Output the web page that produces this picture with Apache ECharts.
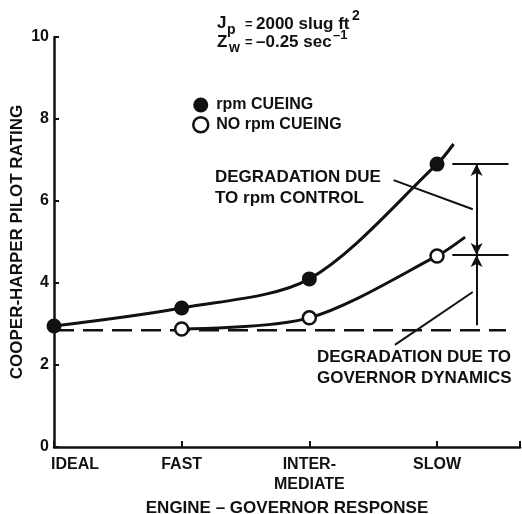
<!DOCTYPE html>
<html lang="en">
<head>
    <meta charset="UTF-8">
    <title>Cooper-Harper rating</title>
    <script type="text/javascript" src="https://cdn.jsdelivr.net/npm/echarts@6/dist/echarts.min.js"></script>
</head>
<body style="margin:0;background:#fff">
<div id="chart" style="width: 522px;height: 514px"></div>
<script type="text/javascript">
    // engine-governor response categories, placed at x = 0,1,2,3
    var responseLabels = ['IDEAL', 'FAST', 'INTER-\nMEDIATE', 'SLOW'];
    var yTicks = [0, 2, 4, 6, 8, 10];

    // pilot ratings; last point is where the faired curve stops
    var rpmCueing = [[0, 2.95], [1, 3.39], [2, 4.1], [3, 6.9]];
    var rpmCueingTail = [3.13, 7.39];
    var noRpmCueing = [[1, 2.88], [2, 3.15], [3, 4.66]];
    var noRpmCueingTail = [3.22, 5.12];
    var baseline = [[0, 2.85], [3.54, 2.85]];

    // annotation lines (data units)
    var levelTop = 6.9, levelMid = 4.68, levelLow = 2.97;
    var arrowX = 3.31, barFrom = 3.12, barTo = 3.56;
    var leaderUpper = [[2.66, 6.51], [3.28, 5.8]];
    var leaderLower = [[2.67, 2.49], [3.28, 3.78]];

    var ink = '#111';
    var font = 'Liberation Sans';

    function curveData(points, tail) {
        var d = points.map(function (p) { return p; });
        d.push({value: tail, symbol: 'none'});
        return d;
    }

    function seg(a, b, symA, symB) {
        return [{coord: a, symbol: symA}, {coord: b, symbol: symB}];
    }

    // x = left edge, y = vertical centre of the text
    function txt(x, y, s, size) {
        return {
            type: 'text', x: x, y: y,
            style: {text: s, fill: ink, font: 'bold ' + (size || 17) + 'px "' + font + '"', align: 'left', verticalAlign: 'middle'}
        };
    }

    var chart = echarts.init(document.getElementById('chart'));
    var option = {
        animation: false,
        grid: {left: 54, right: 2, top: 37, bottom: 67, outerBoundsMode: 'none', containLabel: false},
        legend: {
            left: 187, top: 92, orient: 'vertical',
            itemWidth: 15, itemHeight: 15, itemGap: 3,
            textStyle: {color: ink, fontFamily: font, fontWeight: 'bold', fontSize: 16, lineHeight: 15, padding: [0, 0, 0, 3]},
            data: [
                {name: 'rpm CUEING', icon: 'circle', itemStyle: {color: ink, borderWidth: 0}},
                {name: 'NO rpm CUEING', icon: 'circle', itemStyle: {color: '#fff', borderColor: ink, borderWidth: 2.5}}
            ]
        },
        xAxis: {
            type: 'value', min: 0, max: 3.65, interval: 1,
            name: 'ENGINE \u2013 GOVERNOR RESPONSE', nameLocation: 'middle', nameGap: 47,
            nameTextStyle: {color: ink, fontFamily: font, fontWeight: 'bold', fontSize: 17},
            axisLine: {lineStyle: {color: ink, width: 2.5}},
            axisTick: {inside: true, length: 6, lineStyle: {color: ink, width: 2}},
            splitLine: {show: false},
            axisLabel: {
                margin: 8, color: ink, fontFamily: font, fontWeight: 'bold', fontSize: 16, lineHeight: 20,
                formatter: function (v) {
                    if (Math.abs(v - Math.round(v)) > 1e-6) return '';
                    var s = responseLabels[Math.round(v)] || '';
                    return v === 0 ? '{l|' + s + '}' : s;
                },
                rich: {l: {padding: [0, 0, 0, 42], color: ink, fontFamily: font, fontWeight: 'bold', fontSize: 16}}
            }
        },
        yAxis: {
            type: 'value', min: yTicks[0], max: yTicks[yTicks.length - 1], interval: 2,
            name: 'COOPER-HARPER PILOT RATING', nameLocation: 'middle', nameGap: 28, nameRotate: 90,
            nameMoveOverlap: false,
            nameTextStyle: {color: ink, fontFamily: font, fontWeight: 'bold', fontSize: 17},
            axisLine: {show: true, lineStyle: {color: ink, width: 2.5}},
            axisTick: {show: true, inside: true, length: 5, lineStyle: {color: ink, width: 2}},
            splitLine: {show: false},
            axisLabel: {margin: 5, color: ink, fontFamily: font, fontWeight: 'bold', fontSize: 16}
        },
        graphic: [
            txt(217, 23, 'J', 17), txt(227, 30, 'p', 14), txt(245, 24, '=', 13), txt(256, 24, '2000 slug ft', 17), txt(352, 16, '2', 14),
            txt(217, 42, 'Z', 17), txt(229, 48, 'w', 14), txt(245, 42, '=', 13), txt(256, 42, '\u20130.25 sec', 17), txt(333, 35, '\u20131', 13),
            txt(215, 177, 'DEGRADATION DUE'), txt(215, 198, 'TO rpm CONTROL'),
            txt(317, 357, 'DEGRADATION DUE TO'), txt(317, 378, 'GOVERNOR DYNAMICS')
        ],
        series: [
            {
                name: 'rpm CUEING', type: 'line', smooth: 0.3,
                data: curveData(rpmCueing, rpmCueingTail),
                symbol: 'circle', symbolSize: 15,
                itemStyle: {color: ink},
                lineStyle: {color: ink, width: 3}
            },
            {
                name: 'NO rpm CUEING', type: 'line', smooth: 0.3, z: 3,
                data: curveData(noRpmCueing, noRpmCueingTail),
                symbol: 'circle', symbolSize: 13,
                itemStyle: {color: '#fff', borderColor: ink, borderWidth: 2.5},
                lineStyle: {color: ink, width: 3}
            },
            {
                name: 'baseline', type: 'line', data: baseline, symbol: 'none', z: 1,
                lineStyle: {color: ink, width: 2.5, type: [20, 9]}
            },
            {
                name: 'notes', type: 'line', data: [],
                markLine: {
                    silent: true, symbolSize: [9, 12],
                    label: {show: false},
                    lineStyle: {color: ink, width: 2, type: 'solid'},
                    data: [
                        seg([barFrom, levelTop], [barTo, levelTop], 'none', 'none'),
                        seg([barFrom, levelMid], [barTo, levelMid], 'none', 'none'),
                        seg([arrowX, levelMid], [arrowX, levelTop], 'arrow', 'arrow'),
                        seg([arrowX, levelLow], [arrowX, levelMid], 'none', 'arrow'),
                        seg(leaderUpper[0], leaderUpper[1], 'none', 'none'),
                        seg(leaderLower[0], leaderLower[1], 'none', 'none')
                    ]
                }
            }
        ]
    };
    chart.setOption(option, true);
</script>
</body>
</html>
